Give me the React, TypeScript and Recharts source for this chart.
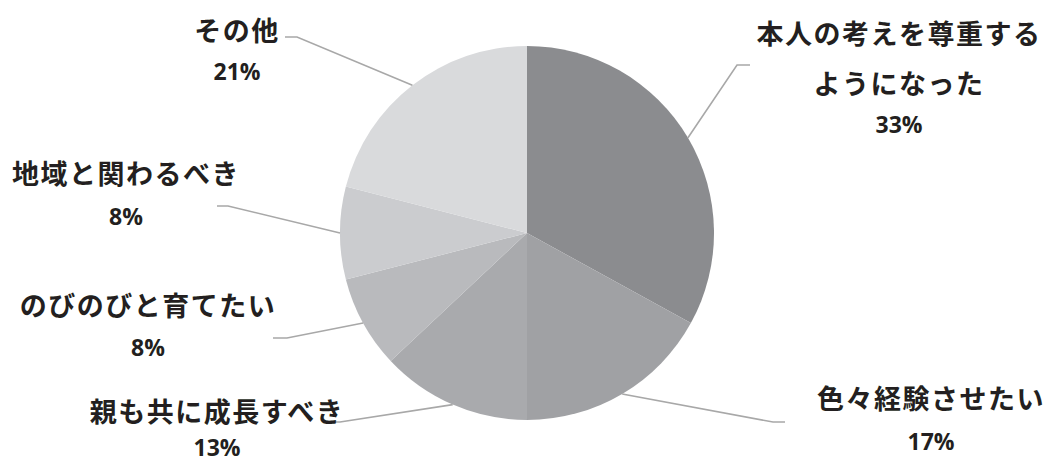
import { Cell, Pie, PieChart } from "recharts";

const categories = [
	["本人の考えを尊重する", "ようになった"],
	["色々経験させたい"],
	["親も共に成長すべき"],
	["のびのびと育てたい"],
	["地域と関わるべき"],
	["その他"],
];
const shares = [33, 17, 13, 8, 8, 21];
const percentLabels = ["33%", "17%", "13%", "8%", "8%", "21%"];

const colors = ["#8b8c8f", "#a0a1a4", "#a9aaad", "#b9babd", "#cbcccf", "#d9dadc"];

// label placement relative to pie centre: elbow of leader line, end of the short flat stub,
// centre of text block, y of each text row
const labelLayout = [
	{ elbow: [210, -168], end: [223, -168], tx: 372, rows: [-201, -151, -109] },
	{ elbow: [246, 189], end: [258, 189], tx: 404, rows: [164, 208] },
	{ elbow: [-187, 189], end: [-200, 189], tx: -310, rows: [177, 214] },
	{ elbow: [-240, 105], end: [-254, 105], tx: -379, rows: [71, 114] },
	{ elbow: [-299, -27], end: [-310, -27], tx: -401, rows: [-61, -17] },
	{ elbow: [-230, -196], end: [-242, -196], tx: -290, rows: [-204, -162] },
];

const data = categories.map((lines, i) => ({ name: lines.join(""), value: shares[i], lines, pct: percentLabels[i] }));

const RADIAN = Math.PI / 180;

const PieLabel = ({ cx, cy, midAngle, outerRadius, index }: any) => {
	const layout = labelLayout[index];
	const sx = cx + outerRadius * Math.cos(-midAngle * RADIAN);
	const sy = cy + outerRadius * Math.sin(-midAngle * RADIAN);
	const ex = cx + layout.elbow[0];
	const ey = cy + layout.elbow[1];
	const fx = cx + layout.end[0];
	const fy = cy + layout.end[1];
	const d = data[index];
	const rowTexts = [...d.lines, d.pct];
	return (
		<g>
			<polyline points={`${sx},${sy} ${ex},${ey} ${fx},${fy}`} fill="none" stroke="#a8a8a8" strokeWidth={1.6} />
			{rowTexts.map((t, i) => {
				const isPct = i === rowTexts.length - 1;
				return (
					<text
						key={i}
						x={cx + layout.tx}
						y={cy + layout.rows[i]}
						textAnchor="middle"
						dominantBaseline="central"
						fill="#231f20"
						fontSize={isPct ? 23 : 27}
						fontWeight={700}
						letterSpacing={isPct ? 0 : 1.5}
						fontFamily={isPct ? "'Open Sans', sans-serif" : "'Noto Sans CJK JP', sans-serif"}
					>
						{t}
					</text>
				);
			})}
		</g>
	);
};

const App = () => {
	return (
		<div style={{ position: "absolute", left: 0, top: 0, width: 1051, height: 463, background: "#fff" }}>
			<PieChart width={1051} height={463} margin={{ top: 0, right: 0, bottom: 0, left: 0 }}>
				<Pie
					data={data}
					dataKey="value"
					nameKey="name"
					cx={527}
					cy={233}
					outerRadius={187}
					startAngle={90}
					endAngle={-270}
					stroke="none"
					isAnimationActive={false}
					labelLine={false}
					label={PieLabel}
				>
					{data.map((_, i) => (
						<Cell key={i} fill={colors[i]} />
					))}
				</Pie>
			</PieChart>
		</div>
	);
};

export default App;
